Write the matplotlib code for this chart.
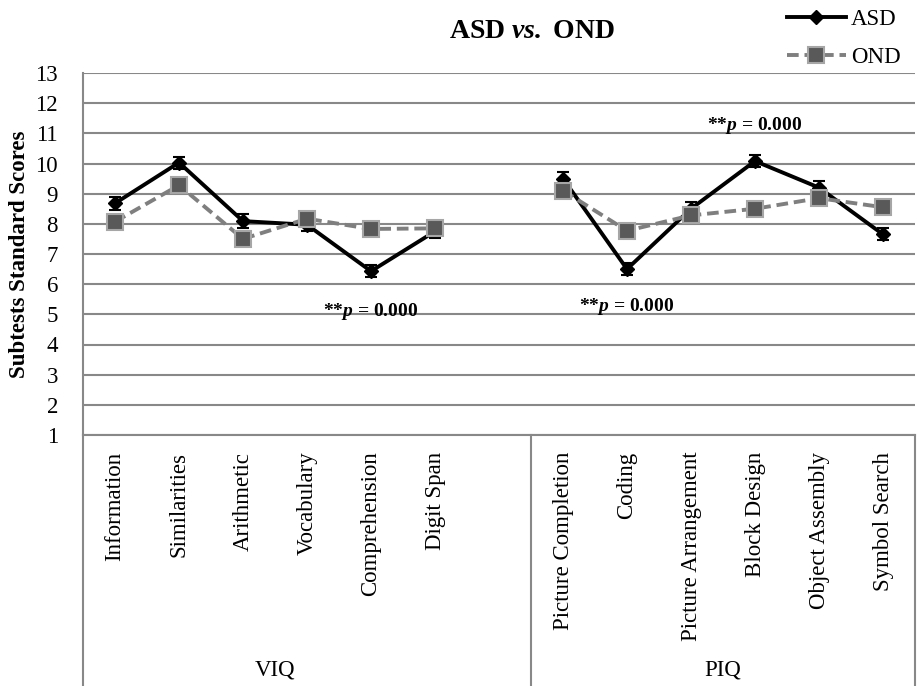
import numpy as np
import matplotlib
matplotlib.use("Agg")
import matplotlib.pyplot as plt
from matplotlib.lines import Line2D

plt.rcParams['font.family'] = ['Liberation Serif', 'DejaVu Serif']
plt.rcParams['mathtext.fontset'] = 'custom'
plt.rcParams['mathtext.rm'] = 'Liberation Serif'
plt.rcParams['mathtext.it'] = 'Liberation Serif:italic'
plt.rcParams['mathtext.bf'] = 'Liberation Serif:bold'
plt.rcParams['mathtext.bfit'] = 'Liberation Serif:bold:italic'

# data
viq_labels = ['Information', 'Similarities', 'Arithmetic', 'Vocabulary', 'Comprehension', 'Digit Span']
piq_labels = ['Picture Completion', 'Coding', 'Picture Arrangement', 'Block Design', 'Object Assembly', 'Symbol Search']
asd_viq = [8.68, 10.03, 8.09, 7.97, 6.43, 7.75]
asd_piq = [9.5, 6.5, 8.5, 10.08, 9.2, 7.65]
ond_viq = [8.07, 9.28, 7.5, 8.17, 7.83, 7.85]
ond_piq = [9.1, 7.77, 8.28, 8.5, 8.85, 8.55]
asd_err_viq = [0.22, 0.2, 0.22, 0.2, 0.2, 0.22]
asd_err_piq = [0.22, 0.2, 0.22, 0.2, 0.22, 0.2]
groups = ['VIQ', 'PIQ']
sig_text = '**$\\mathbfit{p}$ = 0.000'
sig_at = [('Comprehension', 5.08), ('Coding', 5.25), ('Block Design', 11.27)]

# one empty slot between the two groups
labels = viq_labels + [''] + piq_labels
asd = np.array(asd_viq + [np.nan] + asd_piq)
ond = np.array(ond_viq + [np.nan] + ond_piq)
asd_err = np.array(asd_err_viq + [np.nan] + asd_err_piq)
x = np.arange(len(labels))

fig = plt.figure(figsize=(9.19, 6.86), dpi=100)
ax = fig.add_axes([83 / 919, 1 - 435 / 686, 832 / 919, 362 / 686])

ax.errorbar(x, asd, yerr=asd_err, color='black', lw=2.8, marker='D', ms=7,
            capsize=4, capthick=1.5, elinewidth=1.5, zorder=3)
ax.plot(x, ond, color='#7f7f7f', lw=2.8, ls=(0, (3, 1.5)), marker='s', ms=11,
        mfc='#595959', mec='#a6a6a6', mew=1.5, zorder=4)

ax.set_xlim(-0.5, len(labels) - 0.5)
ax.set_ylim(1, 13)
ax.set_yticks(range(1, 14))
ax.yaxis.grid(True, color='#888888', lw=1.5)
ax.set_axisbelow(True)
ax.set_xticks(x)
ax.set_xticklabels(labels, rotation=90, fontsize=16.5)
ax.tick_params(axis='y', length=0, pad=18, labelsize=16.5)
ax.tick_params(axis='x', length=0, pad=12)
for s in ['top', 'right']:
    ax.spines[s].set_visible(False)
for s in ['left', 'bottom']:
    ax.spines[s].set_color('#888888')
    ax.spines[s].set_linewidth(1.5)

ax.set_ylabel('Subtests Standard Scores', fontsize=16.5, fontweight='bold', labelpad=4)

# category box lines below the axis
for xv in [-0.5, len(viq_labels) + 0.5, len(labels) - 0.5]:
    ax.plot([xv, xv], [1, -8], color='#888888', lw=1.5, clip_on=False)
ax.text((len(viq_labels) - 1) / 2, -6.8, groups[0], ha='center', va='center', fontsize=16.5)
ax.text(len(viq_labels) + 1 + (len(piq_labels) - 1) / 2, -6.8, groups[1],
        ha='center', va='center', fontsize=16.5)

for name, yv in sig_at:
    ax.text(labels.index(name), yv, sig_text, ha='center', va='center',
            fontsize=14, fontweight='bold')

fig.text(532 / 919, 1 - 31 / 686, 'ASD $\\mathbfit{vs.}$ OND', ha='center', va='center',
         fontsize=20, fontweight='bold')

handles = [Line2D([], [], color='black', lw=2.8, marker='D', ms=7),
           Line2D([], [], color='#7f7f7f', lw=2.8, ls=(0, (3, 1.5)), marker='s', ms=11,
                  mfc='#595959', mec='#a6a6a6', mew=1.5)]
fig.legend(handles, ['ASD', 'OND'], loc='upper left', bbox_to_anchor=(0.846, 1.0),
           frameon=False, fontsize=16.5, handlelength=2.6, handletextpad=0.2,
           labelspacing=0.75, borderaxespad=0)

fig.savefig('out.png', dpi=100)
